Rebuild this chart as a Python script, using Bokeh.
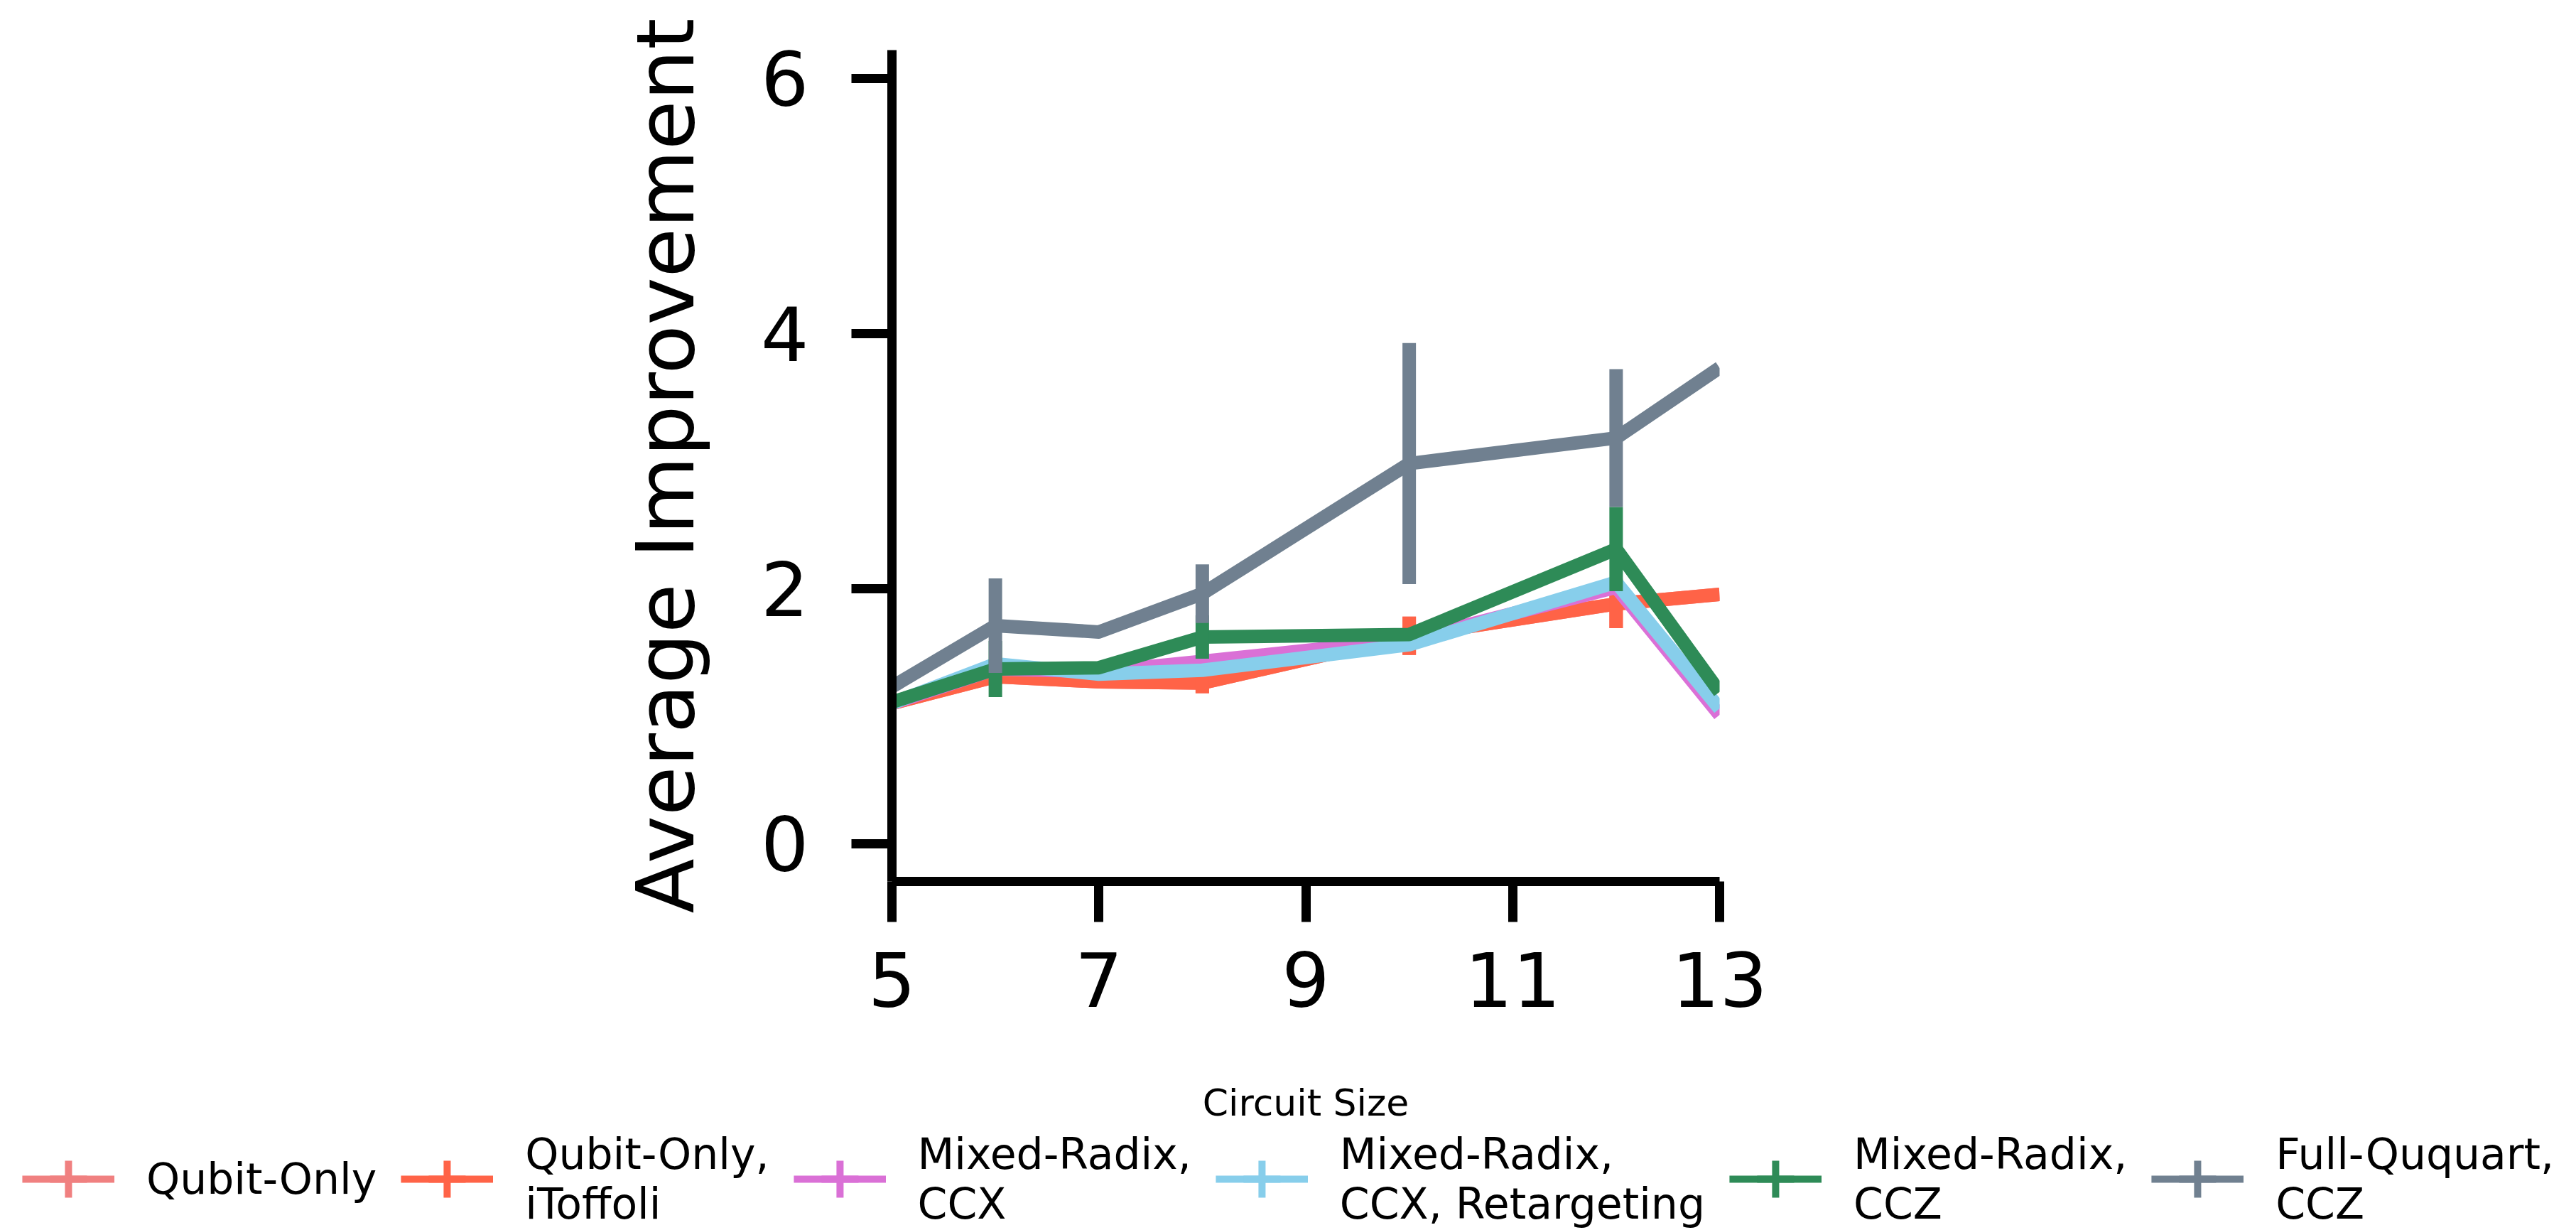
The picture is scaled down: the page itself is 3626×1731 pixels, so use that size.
from bokeh.plotting import figure
from bokeh.layouts import column
from bokeh.models import Range1d, FixedTicker, Legend, LegendItem
from bokeh.embed import file_html
from bokeh.resources import INLINE

# ---- data ----
circuit_sizes = [5, 6, 7, 8, 10, 12, 13]

labels = [
    "Qubit-Only",
    "Qubit-Only,\niToffoli",
    "Mixed-Radix,\nCCX",
    "Mixed-Radix,\nCCX, Retargeting",
    "Mixed-Radix,\nCCZ",
    "Full-Ququart,\nCCZ",
]
colors = ["#F08080", "#FF6347", "#DA70D6", "#87CEEB", "#2E8B57", "#708090"]

qubit_only = [1.10, 1.31, 1.27, 1.26, 1.63, 1.88, 1.955]
qubit_only_itoffoli = [1.10, 1.31, 1.27, 1.26, 1.63, 1.88, 1.955]
mixed_ccx = [1.10, 1.37, 1.35, 1.43, 1.60, 2.01, 1.01]
mixed_ccx_retarget = [1.10, 1.41, 1.33, 1.36, 1.56, 2.05, 1.06]
mixed_ccz = [1.11, 1.37, 1.38, 1.62, 1.64, 2.31, 1.19]
full_ququart_ccz = [1.23, 1.71, 1.66, 1.96, 2.98, 3.18, 3.73]

# half-length of the confidence bars
err_qubit_only = [0, 0.06, 0, 0.08, 0.15, 0.19, 0]
err_qubit_only_itoffoli = [0, 0.06, 0, 0.08, 0.15, 0.19, 0]
err_mixed_ccx = [0, 0.03, 0, 0.03, 0.03, 0.03, 0]
err_mixed_ccx_retarget = [0, 0.03, 0, 0.03, 0.03, 0.03, 0]
err_mixed_ccz = [0, 0.22, 0, 0.17, 0.0, 0.33, 0]
err_full_ququart_ccz = [0, 0.37, 0, 0.23, 0.945, 0.54, 0]

series = [qubit_only, qubit_only_itoffoli, mixed_ccx, mixed_ccx_retarget, mixed_ccz, full_ququart_ccz]
errors = [err_qubit_only, err_qubit_only_itoffoli, err_mixed_ccx, err_mixed_ccx_retarget, err_mixed_ccz, err_full_ququart_ccz]

x_ticks = [5, 7, 9, 11, 13]
y_ticks = [0, 2, 4, 6]

FONT = "DejaVu Sans"
W = 3626
LEG_H = 144

p = figure(
    width=W, height=1731 - LEG_H,
    x_range=Range1d(5, 13), y_range=Range1d(-0.295, 6.22),
    output_backend="svg", toolbar_location=None,
    min_border_left=1255, min_border_right=1206,
    min_border_top=70, min_border_bottom=1731 - LEG_H - 1240,
)
p.frame_align = False
p.outline_line_color = None
p.xgrid.visible = False
p.ygrid.visible = False
p.background_fill_color = "white"
p.border_fill_color = "white"

for vals, errs, col in zip(series, errors, colors):
    p.line(circuit_sizes, vals, line_color=col, line_width=19, line_join="round")
    xs = [x for x, e in zip(circuit_sizes, errs) if e > 0]
    y0 = [v - e for v, e in zip(vals, errs) if e > 0]
    y1 = [v + e for v, e in zip(vals, errs) if e > 0]
    if xs:
        p.segment(x0=xs, y0=y0, x1=xs, y1=y1, line_color=col, line_width=19, line_cap="butt")

for ax, ticks in ((p.xaxis[0], x_ticks), (p.yaxis[0], y_ticks)):
    ax.ticker = FixedTicker(ticks=ticks)
    ax.minor_tick_line_color = None
    ax.major_tick_in = 0
    ax.major_tick_out = 57
    ax.major_tick_line_width = 13
    ax.axis_line_width = 13
    ax.axis_line_color = "black"
    ax.major_tick_line_color = "black"
    ax.major_label_text_font = FONT
    ax.major_label_text_font_size = "106px"
    ax.major_label_text_color = "black"
    ax.axis_label_text_font = FONT
    ax.axis_label_text_font_style = "normal"
    ax.axis_label_text_color = "black"

p.xaxis.axis_label = "Circuit Size"
p.xaxis.axis_label_text_font_size = "52px"
p.xaxis.major_label_standoff = 42
p.xaxis.axis_label_standoff = 102

p.yaxis.axis_label = "Average Improvement"
p.yaxis.axis_label_text_font_size = "113px"
p.yaxis.major_label_standoff = 60
p.yaxis.axis_label_standoff = 65

# ---- legend strip (its own figure, so that nothing clips it) ----
lf = figure(
    width=W, height=LEG_H,
    x_range=Range1d(0, 1), y_range=Range1d(0, 1),
    x_axis_type=None, y_axis_type=None,
    output_backend="svg", toolbar_location=None,
    min_border=0,
)
lf.frame_align = False
lf.outline_line_color = None
lf.grid.visible = False
lf.background_fill_color = "white"
lf.border_fill_color = "white"

items = []
for col, lab in zip(colors, labels):
    lr = lf.line([-10, -9], [-10, -10], line_color=col, line_width=10)
    sr = lf.scatter([-10], [-10], marker="cross", size=10, line_color=col, line_width=10)
    items.append(LegendItem(label=lab, renderers=[lr, sr]))

legend = Legend(
    items=items,
    orientation="horizontal",
    location="center",
    glyph_width=130, glyph_height=130,
    label_standoff=45, spacing=34,
    padding=0, margin=0,
    border_line_color=None, background_fill_alpha=0,
    label_text_font=FONT, label_text_font_size="60px",
    label_text_line_height=1.16, label_text_color="black",
)
lf.add_layout(legend, "center")

layout = column(p, lf, spacing=0)
open("out.html", "w").write(file_html(layout, INLINE))
